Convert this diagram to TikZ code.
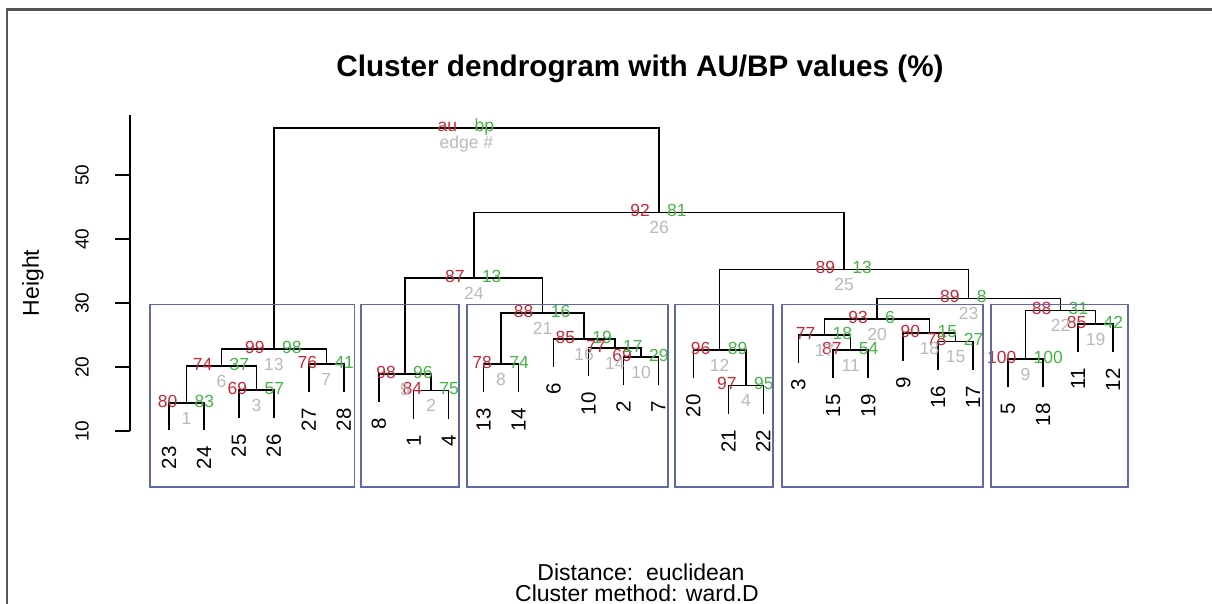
\documentclass[tikz,border=0pt]{standalone}
\usepackage{fontspec}
\setmainfont{Liberation Sans}
\usepackage{xcolor}
\usepackage{tikz}
\usetikzlibrary{positioning,calc}

\definecolor{aured}{RGB}{200,40,55}
\definecolor{bpgreen}{RGB}{70,180,70}
\definecolor{edgegray}{RGB}{185,185,185}
\definecolor{boxblue}{RGB}{95,105,165}
\definecolor{framegray}{RGB}{85,85,85}

\begin{document}
\begin{tikzpicture}[x=1pt,y=-1pt,
  tree/.style={line width=1.5pt,black},
  clbox/.style={line width=1.4pt,boxblue},
  aulab/.style={text=aured,inner sep=0,anchor=base east,font=\fontsize{17.5}{17.5}\selectfont},
  bplab/.style={text=bpgreen,inner sep=0,anchor=base west,font=\fontsize{17.5}{17.5}\selectfont},
  edgelab/.style={text=edgegray,inner sep=0,anchor=base,font=\fontsize{17.5}{17.5}\selectfont},
  leaflab/.style={inner sep=0,rotate=90,anchor=east,font=\fontsize{20.5}{20.5}\selectfont},
  ticklab/.style={inner sep=0,rotate=90,font=\fontsize{19}{19}\selectfont}]
  \useasboundingbox (0,0) rectangle (1212,604);

  % frame of the plot window
  \draw[line width=2.5pt,framegray] (7,604) -- (7,9.5) -- (1212,9.5);

  % title and axis
  \node[font=\bfseries\fontsize{29.7}{29.7}\selectfont,anchor=base] (title) at (640,77)
    {Cluster dendrogram with AU/BP values (\%)};
  \draw[tree] (130,115) -- (130,431);
  \foreach \h in {10,20,30,40,50} {
    \draw[tree] (115,495-6.4*\h) -- (130,495-6.4*\h);
    \node[ticklab] (tick\h) at (82,495-6.4*\h) {\h};
  }
  \node[inner sep=0,rotate=90,font=\fontsize{23}{23}\selectfont] (ylab) at (33,283) {Height};
  \node[inner sep=0,anchor=base,font=\fontsize{23}{23}\selectfont] (dist) at (641,580) {Distance:\ \ euclidean};
  \node[inner sep=0,anchor=base,font=\fontsize{23}{23}\selectfont] (meth) at (637,601) {Cluster method: ward.D};

  % leaves
  \foreach \lab/\lx/\ly in {23/169.0/430,24/204.0/430,25/238.9/418,26/273.9/418,
      27/308.8/392,28/343.8/392,8/378.8/402,1/413.7/418.7,4/448.7/418.7,
      13/483.6/392,14/518.6/392,6/553.6/367,10/588.5/376,2/623.5/385,7/658.4/385,
      20/693.4/378,21/728.4/413.7,22/763.3/413.7,3/798.3/363,15/833.2/378,
      19/868.2/378,9/903.2/361,16/938.1/369.7,17/973.1/369.7,5/1008.0/387,
      18/1043.0/387,11/1078.0/352,12/1112.9/352} {
    \coordinate (l\lab) at (\lx,\ly);
    \node[leaflab] (t\lab) at ([yshift=-16pt]l\lab) {\lab};
  }

  % merges
  \coordinate (m1) at (186.5,403);
  \coordinate (m2) at (431.2,390.7);
  \coordinate (m3) at (256.4,390);
  \coordinate (m4) at (745.9,385.7);
  \coordinate (m5) at (405.0,374);
  \coordinate (m6) at (221.5,366);
  \coordinate (m7) at (326.3,364);
  \coordinate (m8) at (501.1,364);
  \coordinate (m9) at (1025.5,359);
  \coordinate (m10) at (641.0,357);
  \coordinate (m11) at (850.7,350);
  \coordinate (m12) at (719.6,350);
  \coordinate (m13) at (273.9,349);
  \coordinate (m14) at (614.8,348);
  \coordinate (m15) at (955.6,341.7);
  \coordinate (m16) at (584.2,339);
  \coordinate (m17) at (824.5,335);
  \coordinate (m18) at (929.4,333);
  \coordinate (m19) at (1095.5,324);
  \coordinate (m20) at (877.0,319);
  \coordinate (m21) at (542.6,313);
  \coordinate (m22) at (1060.5,310.7);
  \coordinate (m23) at (968.7,298.3);
  \coordinate (m24) at (473.8,278);
  \coordinate (m25) at (844.2,269.3);
  \coordinate (m26) at (659.0,212.7);
  \coordinate (m27) at (466.4,128);

  \draw[tree] (l23) |- (m1) -| (l24);
  \draw[tree] (l1) |- (m2) -| (l4);
  \draw[tree] (l25) |- (m3) -| (l26);
  \draw[tree] (l21) |- (m4) -| (l22);
  \draw[tree] (l8) |- (m5) -| (m2);
  \draw[tree] (m1) |- (m6) -| (m3);
  \draw[tree] (l27) |- (m7) -| (l28);
  \draw[tree] (l13) |- (m8) -| (l14);
  \draw[tree] (l5) |- (m9) -| (l18);
  \draw[tree] (l2) |- (m10) -| (l7);
  \draw[tree] (l15) |- (m11) -| (l19);
  \draw[tree] (l20) |- (m12) -| (m4);
  \draw[tree] (m6) |- (m13) -| (m7);
  \draw[tree] (l10) |- (m14) -| (m10);
  \draw[tree] (l16) |- (m15) -| (l17);
  \draw[tree] (l6) |- (m16) -| (m14);
  \draw[tree] (l3) |- (m17) -| (m11);
  \draw[tree] (l9) |- (m18) -| (m15);
  \draw[tree] (l11) |- (m19) -| (l12);
  \draw[tree] (m17) |- (m20) -| (m18);
  \draw[tree] (m8) |- (m21) -| (m16);
  \draw[tree] (m9) |- (m22) -| (m19);
  \draw[tree] (m20) |- (m23) -| (m22);
  \draw[tree] (m5) |- (m24) -| (m21);
  \draw[tree] (m12) |- (m25) -| (m23);
  \draw[tree] (m24) |- (m26) -| (m25);
  \draw[tree] (m13) |- (m27) -| (m26);

  % au / bp / edge numbers
  \foreach \mn/\pa/\pb/\ed in {m1/80/83/1,m2/84/75/2,m3/69/57/3,m4/97/95/4,
      m5/98/96/5,m6/74/37/6,m7/76/41/7,m8/78/74/8,m9/100/100/9,m10/69/29/10,
      m11/87/54/11,m12/96/89/12,m13/99/98/13,m14/77/17/14,m15/78/27/15,
      m16/85/19/16,m17/77/18/17,m18/90/15/18,m19/85/42/19,m20/93/6/20,
      m21/88/16/21,m22/88/31/22,m23/89/8/23,m24/87/13/24,m25/89/13/25,
      m26/92/81/26,m27/au/bp/edge \#} {
    \node[edgelab] (ed\mn) at ([yshift=-21pt]\mn) {\ed};
    \node[aulab] (au\mn) at ([xshift=-9pt,yshift=-4pt]\mn) {\pa};
    \node[bplab] (bp\mn) at ([xshift=8pt,yshift=-4pt]\mn) {\pb};
  }

  % clusters
  \draw[clbox] (150,304.5) rectangle (354.5,487);
  \draw[clbox] (361,304.5) rectangle (459,487);
  \draw[clbox] (467,304.5) rectangle (668,487);
  \draw[clbox] (675,304.5) rectangle (773,487);
  \draw[clbox] (782,304.5) rectangle (983,487);
  \draw[clbox] (991,304.5) rectangle (1128,487);
\end{tikzpicture}
\end{document}
